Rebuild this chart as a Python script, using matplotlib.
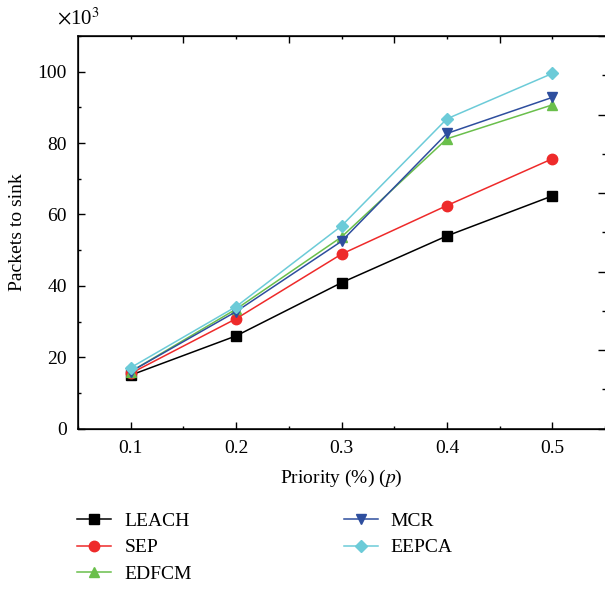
import numpy as np
import matplotlib
matplotlib.use('Agg')
import matplotlib.pyplot as plt
from matplotlib.ticker import MultipleLocator, NullFormatter

plt.rcParams['font.family'] = ['Liberation Serif', 'DejaVu Serif']
plt.rcParams['mathtext.fontset'] = 'stix'

#===========================================================
#               data (packets x 10^3)
#===========================================================
priority = [0.1, 0.2, 0.3, 0.4, 0.5]
leach = [15.0, 26.0, 40.9, 54.0, 65.2]
sep = [15.5, 30.8, 48.9, 62.5, 75.6]
edfcm = [16.0, 33.5, 53.7, 81.2, 90.7]
mcr = [16.0, 32.8, 52.5, 82.7, 92.8]
eepca = [17.1, 34.2, 56.8, 86.8, 99.5]

series = [
    ('LEACH', leach, '#000000', 's', 6.5),
    ('SEP', sep, '#ee2a2a', 'o', 7.5),
    ('EDFCM', edfcm, '#6abf4b', '^', 7.5),
    ('MCR', mcr, '#2e4e9e', 'v', 7.5),
    ('EEPCA', eepca, '#6ccbd8', 'D', 6.5),
]

#===========================================================
#               plot
#===========================================================
fig = plt.figure(figsize=(6.05, 5.9), dpi=100)
ax = fig.add_axes([0.129, 0.2734, 0.871, 0.6656])

for name, vals, col, mk, ms in series:
    ax.plot(priority, vals, color=col, marker=mk, ms=ms, lw=1.1, label=name)

ax.set_xlim(0.05, 0.55)
ax.set_ylim(0, 110)
ax.xaxis.set_minor_locator(MultipleLocator(0.05))
ax.yaxis.set_major_locator(MultipleLocator(20))
ax.yaxis.set_minor_locator(MultipleLocator(10))
ax.set_xticks([0.1, 0.2, 0.3, 0.4, 0.5])
ax.set_xticklabels(['0.1', '0.2', '0.3', '0.4', '0.5'])
ax.tick_params(which='major', direction='in', length=5, width=1, labelsize=14, pad=8)
ax.tick_params(which='minor', direction='in', length=2.5, width=1)
ax.tick_params(top=False, right=False, which='both')
ax.spines['right'].set_visible(False)
for s in ['left', 'bottom', 'top']:
    ax.spines[s].set_linewidth(1.1)

ax.set_xlabel(r'Priority (%) ($p$)', fontsize=14, labelpad=8)
ax.set_ylabel('Packets to sink', fontsize=14, labelpad=8)

# top ticks
axt = ax.twiny()
axt.set_xlim(0.05, 0.55)
axt.set_xticks([0.15, 0.25, 0.35, 0.45])
axt.set_xticks([0.1, 0.2, 0.3, 0.4, 0.5], minor=True)
axt.xaxis.set_major_formatter(NullFormatter())
axt.tick_params(which='major', direction='in', length=5, width=1)
axt.tick_params(which='minor', direction='in', length=2.5, width=1)
axt.spines['right'].set_visible(False)

# right ticks
axr = ax.twinx()
axr.set_ylim(0, 5)
axr.yaxis.set_major_locator(MultipleLocator(1))
axr.yaxis.set_minor_locator(MultipleLocator(0.5))
axr.yaxis.set_major_formatter(NullFormatter())
axr.tick_params(which='major', direction='in', length=5, width=1)
axr.tick_params(which='minor', direction='in', length=2, width=1)
axr.spines['right'].set_visible(False)

fig.text(0.094, 0.969, r'$\times$10$^3$', fontsize=15, ha='left', va='center')

h, l = ax.get_legend_handles_labels()
fig.legend(h, l, ncol=2, loc='upper left', bbox_to_anchor=(0.115, 0.145),
           frameon=False, fontsize=14, handlelength=1.75, handletextpad=0.67,
           columnspacing=7.8, labelspacing=0.46, borderaxespad=0)

fig.savefig('out.png', dpi=100)
